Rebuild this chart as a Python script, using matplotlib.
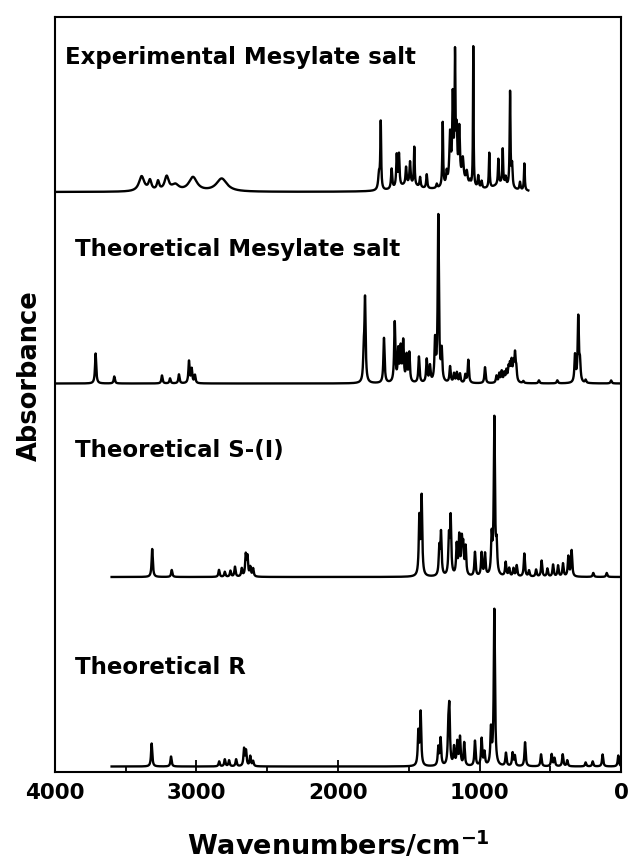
import numpy as np
import matplotlib
matplotlib.use("Agg")
import matplotlib.pyplot as plt
from matplotlib.ticker import MultipleLocator

# band positions (cm-1), heights (arb.) and widths
exp_pos = [3388, 3329, 3272, 3211, 3150, 3025, 2822,
           1500, 1150, 850,
           1710, 1698, 1621, 1585, 1569, 1519, 1491, 1461, 1420, 1373, 1302,
           1260, 1232, 1208, 1189, 1173, 1161, 1143, 1118, 1090, 1067, 1044,
           1009, 985, 931, 867, 836, 815, 784, 770, 714, 683]
exp_h = [15, 10, 9, 14, 6, 14, 13,
         7, 10, 7,
         16, 66, 20, 32, 32, 17, 22, 38, 10, 14, 4,
         64, 12, 48, 82, 120, 45, 50, 22, 12, 4, 140,
         12, 7, 35, 25, 35, 8, 95, 22, 8, 27]
exp_w = [45, 25, 20, 35, 60, 70, 90,
         160, 160, 120,
         14, 7, 10, 9, 9, 9, 9, 7, 9, 9, 9,
         7, 9, 12, 9, 7, 9, 10, 14, 14, 9, 5,
         9, 9, 7, 7, 7, 9, 7, 9, 9, 7]

mes_pos = [3713, 3581, 3244, 3187, 3124, 3053, 3034, 3011,
           1818, 1809, 1675, 1599, 1574, 1557, 1539, 1515, 1496, 1428, 1373,
           1350, 1314, 1291, 1267, 1208, 1180, 1160, 1138, 1100, 1079, 961,
           880, 860, 843, 825, 810, 795, 785, 773, 760, 749, 740,
           690, 580, 450, 325, 302, 290, 250, 70]
mes_h = [30, 7, 8, 5, 9, 22, 14, 8,
         25, 82, 45, 60, 31, 33, 40, 26, 29, 26, 23,
         16, 40, 166, 30, 16, 9, 10, 9, 8, 23, 16,
         7, 9, 11, 9, 11, 13, 15, 19, 16, 26, 12,
         2, 3, 3, 27, 65, 18, 3, 3]

s_pos = [3313, 3175, 2841, 2800, 2760, 2728, 2680, 2652, 2640, 2620, 2600,
         1425, 1409, 1284, 1272, 1216, 1204, 1161, 1143, 1125, 1115, 1098,
         1032, 985, 961, 914, 895, 879, 815, 790, 760, 737, 683, 650, 600,
         561, 520, 480, 445, 410, 372, 349, 196, 101]
s_h = [28, 7, 7, 5, 6, 10, 8, 21, 19, 9, 8,
       57, 78, 27, 42, 37, 57, 30, 38, 33, 27, 28,
       24, 23, 22, 37, 156, 27, 14, 8, 8, 11, 23, 6, 7,
       16, 8, 12, 11, 13, 20, 26, 4, 4]

r_pos = [3317, 3180, 2840, 2800, 2770, 2720, 2664, 2650, 2620, 2600,
         1432, 1416, 1291, 1275, 1220, 1213, 1180, 1157, 1138, 1108,
         1032, 985, 965, 919, 895, 813, 766, 750, 678, 565, 490, 470,
         412, 380, 250, 200, 130, 19]
r_h = [23, 10, 5, 7, 6, 7, 17, 15, 10, 5,
       33, 53, 18, 27, 33, 53, 18, 23, 28, 23,
       25, 27, 13, 35, 156, 13, 13, 10, 24, 12, 12, 8,
       12, 6, 4, 5, 12, 11]

labels = ["Experimental Mesylate salt", "Theoretical Mesylate salt",
          "Theoretical S-(I)", "Theoretical R"]

plt.rcParams["mathtext.default"] = "bf"


def spectrum(x, pos, h, w):
    y = np.zeros_like(x, dtype=float)
    for p, a, g in zip(pos, h, w):
        y += a / (1 + ((x - p) / (g / 2)) ** 2)
    return y


fig = plt.figure(figsize=(6.29, 8.66), dpi=100)
ax = fig.add_axes([55 / 629, 94 / 866, 566 / 629, 755 / 866])

x_exp = np.arange(4000, 654, -1.0)
x_mes = np.arange(4000, -1, -1.0)
x_th = np.arange(3600, -1, -1.0)

traces = [
    (x_exp, spectrum(x_exp, exp_pos, exp_h, exp_w), 580),
    (x_mes, spectrum(x_mes, mes_pos, mes_h, [10] * len(mes_pos)), 388.5),
    (x_th, spectrum(x_th, s_pos, s_h, [10] * len(s_pos)), 195),
    (x_th, spectrum(x_th, r_pos, r_h, [10] * len(r_pos)), 5.5),
]
for xx, yy, off in traces:
    ax.plot(xx, yy + off, color="black", linewidth=1.7)

ax.set_xlim(4000, 0)
ax.set_ylim(0, 755)

label_pos = [(0.018, 0.9457), (0.035, 0.6914), (0.035, 0.4252), (0.035, 0.139)]
for (tx, ty), s in zip(label_pos, labels):
    ax.text(tx, ty, s, transform=ax.transAxes, fontsize=16.5, fontweight="bold",
            family="DejaVu Sans", va="center", ha="left")

ax.xaxis.set_major_locator(MultipleLocator(1000))
ax.xaxis.set_minor_locator(MultipleLocator(500))
ax.tick_params(axis="x", which="major", direction="in", length=8.5, width=1.3,
               labelsize=15.5, pad=8)
ax.tick_params(axis="x", which="minor", direction="in", length=4.3, width=1.3)
ax.set_yticks([])
for lab in ax.get_xticklabels():
    lab.set_fontweight("bold")
for sp in ax.spines.values():
    sp.set_linewidth(1.5)

ax.set_xlabel("Wavenumbers/cm$^{-1}$", fontsize=19.5, fontweight="bold", labelpad=20)
fig.text(30 / 629, 1 - 376 / 866, "Absorbance", rotation=90, fontsize=18.5,
         fontweight="bold", ha="center", va="center")

fig.savefig("out.png", dpi=100)
